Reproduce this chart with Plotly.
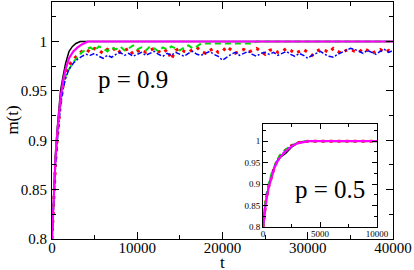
import plotly.graph_objects as go

# ---------------- data ----------------
t_rise = [0, 200, 400, 600, 800, 1000, 1300, 1600, 2000, 2500]
t_sat = list(range(3000, 40001, 500))

black_t = [0, 200, 400, 600, 800, 1000, 1300, 1600, 2000, 2400, 2800, 3300, 5000, 40000]
black_m = [0.80, 0.85, 0.885, 0.91, 0.93, 0.95, 0.965, 0.978, 0.99, 0.995, 0.998, 1.0, 1.0, 1.0]

magenta_t = [0, 200, 400, 600, 800, 1000, 1300, 1600, 2000, 2500, 3000, 3500, 4200, 40000]
magenta_m = [0.80, 0.845, 0.88, 0.905, 0.925, 0.943, 0.96, 0.972, 0.983, 0.99, 0.994, 0.997, 1.0, 1.0]

red_rise = [0.80, 0.84, 0.875, 0.90, 0.92, 0.938, 0.955, 0.967, 0.976, 0.982]
green_rise = [0.80, 0.845, 0.88, 0.905, 0.925, 0.94, 0.955, 0.965, 0.972, 0.979]
blue_rise = [0.80, 0.84, 0.872, 0.897, 0.917, 0.935, 0.952, 0.963, 0.972, 0.978]

red_sat = [0.986, 0.990, 0.992, 0.989, 0.993, 0.991, 0.988, 0.992, 0.990, 0.994, 0.989, 0.991, 0.993, 0.987, 0.990,
           0.992, 0.989, 0.991, 0.993, 0.990, 0.988, 0.992, 0.982, 0.991, 0.993, 0.990, 0.989, 0.992, 0.994, 0.990,
           0.988, 0.991, 0.993, 0.989, 0.990, 0.995, 0.991, 0.988, 0.990, 0.992, 0.989, 0.991, 0.993, 0.990, 0.987,
           0.991, 0.992, 0.989, 0.990, 0.993, 0.991, 0.988, 0.990, 0.992, 0.989, 0.986, 0.990, 0.992, 0.991, 0.989,
           0.993, 0.990, 0.988, 0.991, 0.992, 0.990, 0.989, 0.993, 0.991, 0.988, 0.990, 0.992, 0.989, 0.991, 0.990]

blue_sat = [0.982, 0.985, 0.987, 0.986, 0.988, 0.985, 0.983, 0.986, 0.984, 0.987, 0.989, 0.986, 0.988, 0.985, 0.987,
            0.989, 0.986, 0.988, 0.990, 0.987, 0.985, 0.988, 0.986, 0.989, 0.987, 0.985, 0.988, 0.990, 0.987, 0.986,
            0.988, 0.990, 0.987, 0.985, 0.981, 0.984, 0.987, 0.989, 0.986, 0.988, 0.990, 0.987, 0.985, 0.988, 0.989,
            0.987, 0.989, 0.986, 0.988, 0.990, 0.987, 0.985, 0.988, 0.986, 0.983, 0.986, 0.988, 0.990, 0.987, 0.985,
            0.984, 0.987, 0.989, 0.991, 0.993, 0.992, 0.990, 0.988, 0.991, 0.989, 0.987, 0.990, 0.992, 0.989, 0.991]

green_sat = [0.984, 0.989, 0.992, 0.994, 0.991, 0.995, 0.993, 0.990, 0.994, 0.992, 0.995, 0.991, 0.993, 0.996, 0.992,
             0.994, 0.991, 0.995, 0.993, 0.990, 0.994, 0.992, 0.995, 0.993, 0.991, 0.994, 0.996, 0.993, 0.995, 0.998,
             0.998, 0.998, 0.998, 0.998, 0.998, 0.998, 0.998, 0.998, 0.998, 0.998, 0.998, 0.998, 1.0, 1.0, 1.0,
             1.0, 1.0, 1.0, 1.0, 1.0, 1.0, 1.0, 1.0, 1.0, 1.0, 1.0, 1.0, 1.0, 1.0, 1.0,
             1.0, 1.0, 1.0, 1.0, 1.0, 1.0, 1.0, 1.0, 1.0, 1.0, 1.0, 1.0, 1.0, 1.0, 1.0]

# inset (p = 0.5)
inset_t = [0, 100, 250, 500, 750, 1000, 1250, 1500, 2000, 2500, 3000, 3500, 4000, 5000, 6000, 7000, 8000, 9000, 10000]
inset_black = [0.80, 0.83, 0.86, 0.895, 0.92, 0.94, 0.953, 0.962, 0.972, 0.986, 0.995, 0.999, 1.0, 1.0, 1.0, 1.0, 1.0, 1.0, 1.0]
inset_red = [0.80, 0.83, 0.86, 0.895, 0.92, 0.94, 0.955, 0.966, 0.98, 0.99, 0.996, 0.999, 1.0, 1.0, 1.0, 1.0, 1.0, 1.0, 1.0]
inset_green = [0.80, 0.84, 0.87, 0.902, 0.925, 0.944, 0.958, 0.968, 0.981, 0.99, 0.996, 0.999, 1.0, 1.0, 1.0, 1.0, 1.0, 1.0, 1.0]
inset_blue = [0.80, 0.83, 0.862, 0.897, 0.921, 0.941, 0.955, 0.965, 0.979, 0.989, 0.995, 0.999, 1.0, 1.0, 1.0, 1.0, 1.0, 1.0, 1.0]
inset_magenta = [0.80, 0.828, 0.858, 0.893, 0.918, 0.938, 0.952, 0.963, 0.977, 0.988, 0.995, 0.998, 1.0, 1.0, 1.0, 1.0, 1.0, 1.0, 1.0]

x_ticks_main = [0, 10000, 20000, 30000, 40000]
x_ticks_inset = [0, 5000, 10000]
y_ticks = [0.8, 0.85, 0.9, 0.95, 1]
y_ticktext = ["0.8", "0.85", "0.9", "0.95", "1"]

# ---------------- figure ----------------
fig = go.Figure()

styles = {
    "black": dict(color="black", width=1.5),
    "red": dict(color="#ff0000", width=3, dash="3px,5px"),
    "green": dict(color="#00dd00", width=2, dash="6px,4px"),
    "blue": dict(color="#0000ff", width=1.5, dash="5px,2px,2px,2px"),
    "magenta": dict(color="#ff00ff", width=2.2),
}

fig.add_trace(go.Scatter(x=black_t, y=black_m, mode="lines", line=styles["black"]))
fig.add_trace(go.Scatter(x=t_rise + t_sat, y=red_rise + red_sat, mode="lines", line=styles["red"]))
fig.add_trace(go.Scatter(x=t_rise + t_sat, y=green_rise + green_sat, mode="lines", line=styles["green"]))
fig.add_trace(go.Scatter(x=t_rise + t_sat, y=blue_rise + blue_sat, mode="lines", line=styles["blue"]))
fig.add_trace(go.Scatter(x=magenta_t, y=magenta_m, mode="lines", line=styles["magenta"]))

for name, ys in [("black", inset_black), ("red", inset_red), ("green", inset_green),
                 ("blue", inset_blue), ("magenta", inset_magenta)]:
    fig.add_trace(go.Scatter(x=inset_t, y=ys, mode="lines", line=styles[name],
                             xaxis="x2", yaxis="y2"))

serif = "Liberation Serif"
axis_common = dict(showgrid=False, zeroline=False, showline=True, linecolor="black",
                   linewidth=1.2, mirror="ticks", ticks="inside", tickcolor="black")

fig.update_layout(
    width=414, height=270,
    margin=dict(l=52, r=21, t=2, b=31, autoexpand=False),
    paper_bgcolor="white", plot_bgcolor="white",
    showlegend=False,
    font=dict(family=serif, color="black"),
    xaxis=dict(range=[0, 40000], tickvals=x_ticks_main, tickformat="d",
               ticklen=7, tickfont=dict(size=15, family=serif), ticklabelstandoff=-5,
               minor=dict(dtick=5000, ticks="inside", ticklen=4, tickcolor="black"),
               **axis_common),
    yaxis=dict(range=[0.8, 1.04], tickvals=y_ticks, ticktext=y_ticktext,
               ticklen=7, tickfont=dict(size=15, family=serif), ticklabelstandoff=1,
               minor=dict(dtick=0.025, tick0=0.8, ticks="inside", ticklen=4, tickcolor="black"),
               **axis_common),
    xaxis2=dict(domain=[0.619, 0.953], anchor="y2", range=[0, 10000],
                tickvals=x_ticks_inset, tickformat="d", ticklen=5, ticklabelstandoff=-2,
                tickfont=dict(size=9, family=serif),
                minor=dict(dtick=2500, ticks="inside", ticklen=3, tickcolor="black"),
                **axis_common),
    yaxis2=dict(domain=[0.0506, 0.485], anchor="x2", range=[0.8, 1.04],
                tickvals=y_ticks, ticktext=y_ticktext,
                ticklen=5, tickfont=dict(size=9, family=serif),
                minor=dict(dtick=0.025, tick0=0.8, ticks="inside", ticklen=3, tickcolor="black"),
                **axis_common),
    annotations=[
        dict(text="m(t)", xref="paper", yref="paper", x=-0.117, y=0.5, textangle=-90,
             showarrow=False, font=dict(size=17, family=serif), xanchor="center", yanchor="middle"),
        dict(text="t", xref="paper", yref="paper", x=0.5, y=-0.099,
             showarrow=False, font=dict(size=17, family=serif), xanchor="center", yanchor="middle"),
        dict(text="p = 0.9", xref="paper", yref="paper", x=0.2375, y=0.675,
             showarrow=False, font=dict(size=25, family=serif), xanchor="center", yanchor="middle"),
        dict(text="p = 0.5", xref="paper", yref="paper", x=0.815, y=0.207,
             showarrow=False, font=dict(size=25, family=serif), xanchor="center", yanchor="middle"),
    ],
)

fig.write_html("out.html", post_script="document.body.style.margin='0';",
               config={"displayModeBar": False})
